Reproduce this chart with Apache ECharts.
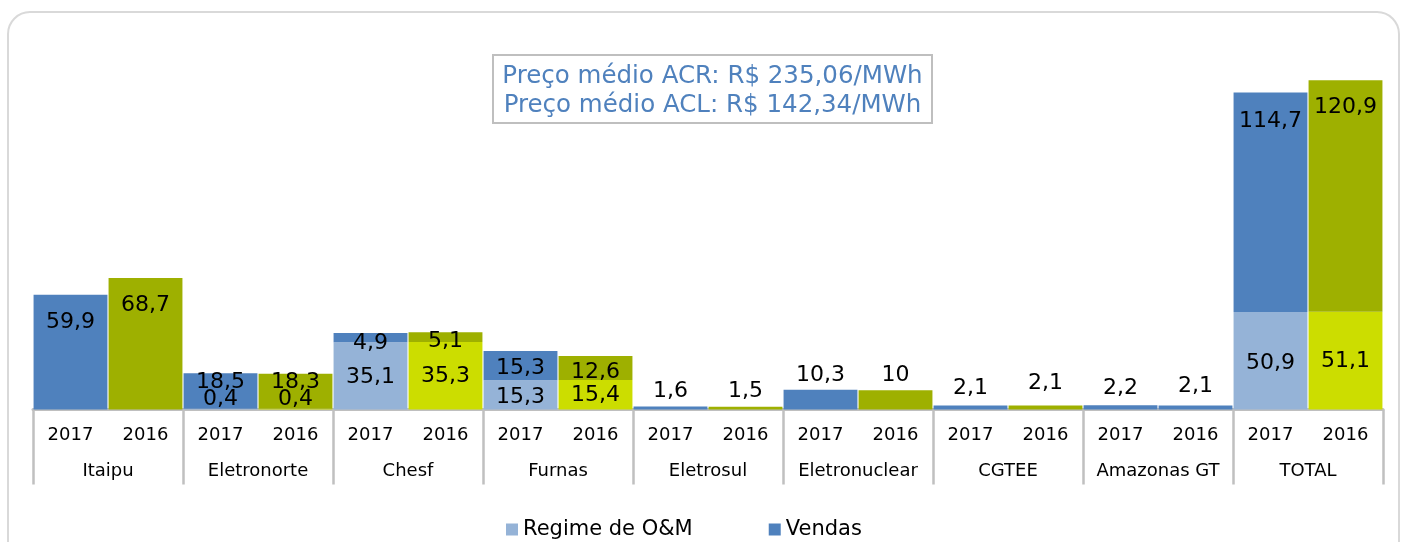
<!DOCTYPE html>
<html>
<head>
<meta charset="utf-8">
<script src="https://cdn.jsdelivr.net/npm/echarts@6/dist/echarts.min.js"></script>
<style>
  html, body { margin: 0; padding: 0; background: #fff; }
  #chart { width: 1402px; height: 542px; }
</style>
</head>
<body>
<div id="chart"></div>
<script>
// ---------- DATA ----------
const companies = ['Itaipu', 'Eletronorte', 'Chesf', 'Furnas', 'Eletrosul', 'Eletronuclear', 'CGTEE', 'Amazonas GT', 'TOTAL'];
const years = ['2017', '2016'];
const omValues2017     = [0,    0.4,  35.1, 15.3, 0,   0,    0,   0,   50.9];
const omValues2016     = [0,    0.4,  35.3, 15.4, 0,   0,    0,   0,   51.1];
const vendasValues2017 = [59.9, 18.5, 4.9,  15.3, 1.6, 10.3, 2.1, 2.2, 114.7];
const vendasValues2016 = [68.7, 18.3, 5.1,  12.6, 1.5, 10,   2.1, 2.1, 120.9];
const seriesNames = ['Regime de O&M', 'Vendas'];
const priceLines = ['Preço médio ACR: R$ 235,06/MWh', 'Preço médio ACL: R$ 142,34/MWh'];

// ---------- STYLE ----------
const FONT = 'DejaVu Sans';
const COLORS = {
  om2017: '#95B3D7', vendas2017: '#4F81BD',
  om2016: '#CCDD00', vendas2016: '#9EB000'
};
const blue2016Companies = ['Amazonas GT'];

// per-bar label placement (index into the 18 interleaved bars)
const vendasLabelStyle = {
  0: { position: 'insideTop', distance: 16 },
  1: { position: 'insideTop', distance: 16 },
  2: { position: 'insideTop', distance: -2 },
  3: { position: 'insideTop', distance: -2 },
  4: { position: 'inside', offset: [0, 6] },
  5: { position: 'inside', offset: [0, 4] },
  6: { position: 'inside', offset: [0, 2.5] },
  7: { position: 'inside', offset: [0, 4] },
  8: { position: 'top', distance: 4.4 },
  9: { position: 'top', distance: 4.6 },
  10: { position: 'top', distance: 3.8 },
  11: { position: 'top', distance: 4.4 },
  12: { position: 'top', distance: 6.5 },
  13: { position: 'top', distance: 11.5 },
  14: { position: 'top', distance: 6 },
  15: { position: 'top', distance: 8.5 },
  16: { position: 'insideTop', distance: 18 },
  17: { position: 'insideTop', distance: 16 }
};
const omLabelStyle = {
  2: { position: 'inside', offset: [0, -10] },
  3: { position: 'inside', offset: [0, -10] },
  4: { position: 'inside', offset: [0, 1] },
  5: { position: 'inside', offset: [0, 1] },
  6: { position: 'inside', offset: [0, 2] },
  7: { position: 'inside', offset: [0, 1] },
  16: { position: 'inside', offset: [0, 2] },
  17: { position: 'inside', offset: [0, 1] }
};

// ---------- BUILD ----------
const yearCategories = [];
const omData = [];
const vendasData = [];
companies.forEach((c, i) => {
  years.forEach((y, j) => {
    const idx = yearCategories.length;
    yearCategories.push(y);
    const is2016 = y === '2016' && blue2016Companies.indexOf(c) < 0;
    const om = j === 0 ? omValues2017[i] : omValues2016[i];
    const ve = j === 0 ? vendasValues2017[i] : vendasValues2016[i];
    omData.push({
      value: om,
      itemStyle: { color: is2016 ? COLORS.om2016 : COLORS.om2017 },
      label: Object.assign({}, omLabelStyle[idx] || {})
    });
    vendasData.push({
      value: ve,
      itemStyle: { color: is2016 ? COLORS.vendas2016 : COLORS.vendas2017 },
      label: Object.assign({}, vendasLabelStyle[idx] || {})
    });
  });
});

const fmt = p => (p.value === 0 ? '' : String(p.value).replace('.', ','));
const labelBase = { show: true, formatter: fmt, color: '#000', fontSize: 22, fontFamily: FONT };

const chart = echarts.init(document.getElementById('chart'), null, { renderer: 'canvas' });
chart.setOption({
  animation: false,
  backgroundColor: '#fff',
  textStyle: { fontFamily: FONT },
  grid: { left: 33, right: 19, top: 65, bottom: 132.5, containLabel: false },
  legend: {
    data: seriesNames,
    left: 501, top: 514,
    icon: 'rect', itemWidth: 12, itemHeight: 12, itemGap: 76,
    textStyle: { fontSize: 21, color: '#000', fontFamily: FONT }
  },
  xAxis: [
    {
      type: 'category', data: yearCategories, position: 'bottom',
      axisLine: { show: true, lineStyle: { color: '#BFBFBF', width: 3 } },
      axisTick: { show: false },
      axisLabel: { interval: 0, margin: 17, fontSize: 18, color: '#000', fontFamily: FONT }
    },
    {
      type: 'category', data: companies, position: 'bottom',
      axisLine: { show: false },
      axisTick: { show: true, interval: 0, length: 75, lineStyle: { color: '#C0C0C0', width: 2.5 } },
      axisLabel: { interval: 0, margin: 53, fontSize: 18, color: '#000', fontFamily: FONT }
    }
  ],
  yAxis: { type: 'value', min: 0, max: 180, show: false, splitLine: { show: false } },
  series: [
    {
      name: seriesNames[0], type: 'bar', stack: 'total', xAxisIndex: 0,
      barCategoryGap: '1.5%',
      itemStyle: { color: COLORS.om2017 },
      label: labelBase,
      data: omData
    },
    {
      name: seriesNames[1], type: 'bar', stack: 'total', xAxisIndex: 0,
      barCategoryGap: '1.5%',
      itemStyle: { color: COLORS.vendas2017 },
      label: labelBase,
      data: vendasData
    }
  ],
  graphic: [
    {
      type: 'rect', silent: true, z: -10,
      shape: { x: 8, y: 12, width: 1391, height: 580, r: 22 },
      style: { fill: 'none', stroke: '#D9D9D9', lineWidth: 2 }
    },
    {
      type: 'rect', silent: true,
      shape: { x: 493, y: 55, width: 439, height: 68 },
      style: { fill: '#fff', stroke: '#BFBFBF', lineWidth: 2 }
    },
    {
      type: 'text', silent: true, x: 712.5, y: 77,
      style: { text: priceLines[0], font: '24.5px "DejaVu Sans"', fill: '#4F81BD', align: 'center', verticalAlign: 'middle' }
    },
    {
      type: 'text', silent: true, x: 712.5, y: 106,
      style: { text: priceLines[1], font: '24.5px "DejaVu Sans"', fill: '#4F81BD', align: 'center', verticalAlign: 'middle' }
    }
  ]
});
</script>
</body>
</html>
